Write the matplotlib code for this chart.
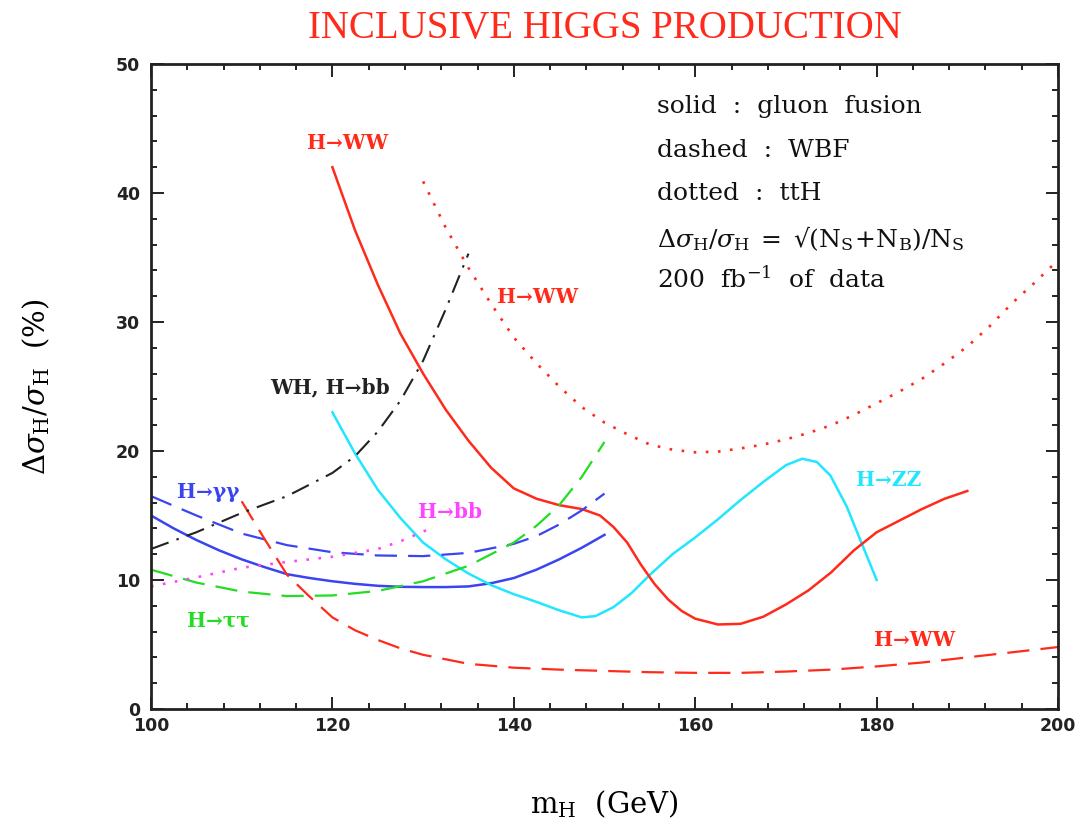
import matplotlib
matplotlib.use("Agg")
import matplotlib.pyplot as plt
from matplotlib.ticker import MultipleLocator

plt.rcParams['mathtext.fontset'] = 'dejavuserif'

# ---- gluon fusion (solid) ----
gg_aa_m = [100, 102.5, 105, 107.5, 110, 112.5, 115, 117.5, 120, 122.5, 125, 127.5,
           130, 132.5, 135, 137.5, 140, 142.5, 145, 147.5, 150]
gg_aa_v = [15.0, 14.0, 13.1, 12.3, 11.6, 11.0, 10.45, 10.15, 9.9, 9.7, 9.55, 9.47,
           9.45, 9.45, 9.5, 9.75, 10.15, 10.8, 11.6, 12.5, 13.5]

gg_zz_m = [120, 122.5, 125, 127.5, 130, 132.5, 135, 137.5, 140, 142.5, 145, 147.5,
           149, 151, 153, 155, 157.5, 160, 162.5, 165, 167.5, 170, 171.8, 173.4,
           174.9, 176.7, 178.2, 180]
gg_zz_v = [23.0, 19.8, 17.0, 14.8, 12.9, 11.6, 10.5, 9.6, 8.9, 8.3, 7.65, 7.1,
           7.2, 7.9, 9.0, 10.4, 12.0, 13.3, 14.7, 16.2, 17.6, 18.9, 19.4, 19.15,
           18.1, 15.7, 13.1, 10.0]

gg_ww_m = [120, 122.5, 125, 127.5, 130, 132.5, 135, 137.5, 140, 142.5, 145, 147.5,
           149.5, 151, 152.5, 154, 155.5, 157, 158.5, 160, 162.5, 165, 167.5, 170,
           172.5, 175, 177.5, 180, 182.5, 185, 187.5, 190]
gg_ww_v = [42.0, 37.1, 32.9, 29.1, 26.0, 23.2, 20.8, 18.7, 17.1, 16.3, 15.8, 15.5,
           15.0, 14.1, 12.9, 11.2, 9.7, 8.5, 7.6, 7.0, 6.55, 6.6, 7.15, 8.1,
           9.2, 10.6, 12.3, 13.7, 14.6, 15.5, 16.3, 16.9]

# ---- weak boson fusion (dashed) ----
wbf_aa_m = [100, 105, 110, 115, 120, 125, 130, 135, 140, 142.5, 145, 147.5, 150]
wbf_aa_v = [16.5, 15.0, 13.6, 12.7, 12.15, 11.9, 11.85, 12.1, 12.8, 13.4, 14.3, 15.4, 16.7]

wbf_tt_m = [100, 105, 110, 115, 120, 125, 130, 135, 140, 142.5, 145, 147.5, 150]
wbf_tt_v = [10.8, 9.8, 9.1, 8.75, 8.8, 9.15, 9.9, 11.1, 12.9, 14.2, 15.8, 18.0, 20.7]

wbf_ww_m = [110, 112.5, 115, 117.5, 120, 122.5, 125, 127.5, 130, 135, 140, 145, 150,
            155, 160, 165, 170, 175, 180, 185, 190, 195, 200]
wbf_ww_v = [16.1, 13.2, 10.4, 8.7, 7.1, 6.1, 5.35, 4.7, 4.2, 3.5, 3.2, 3.05, 2.95,
            2.85, 2.8, 2.8, 2.9, 3.05, 3.3, 3.6, 4.0, 4.4, 4.8]

# ---- ttH (dotted) ----
tth_bb_m = [100, 105, 110, 115, 120, 125, 127.5, 130.5]
tth_bb_v = [9.5, 10.2, 10.95, 11.4, 11.8, 12.4, 13.0, 13.9]

tth_ww_m = [130, 132.5, 135, 137.5, 140, 142.5, 145, 147.5, 150, 152.5, 155, 157.5,
            160, 162.5, 165, 167.5, 170, 172.5, 175, 177.5, 180, 182.5, 185, 187.5,
            190, 192.5, 195, 197.5, 200]
tth_ww_v = [40.9, 37.3, 34.2, 31.4, 28.8, 26.8, 25.0, 23.4, 22.2, 21.3, 20.5, 20.1,
            19.9, 19.95, 20.2, 20.5, 20.9, 21.4, 22.0, 22.8, 23.7, 24.6, 25.6, 26.8,
            28.1, 29.7, 31.5, 33.1, 34.8]

# ---- WH, H->bb (dash-dot) ----
wh_bb_m = [100, 105, 110, 115, 120, 122.5, 125, 127.5, 130, 132.5, 135]
wh_bb_v = [12.4, 13.7, 15.2, 16.5, 18.3, 19.6, 21.5, 23.9, 27.0, 31.0, 35.3]

RED = '#ff2a1a'
BLUE = '#3a44f0'
CYAN = '#22e6ff'
GREEN = '#22dd22'
MAGENTA = '#ff44ff'
BLACK = '#222222'

DASH = (0, (10, 5))
DOT = (0, (1.0, 3.6))
DASHDOT = (0, (9, 4, 1.2, 4))

fig = plt.figure(figsize=(10.77, 8.24), dpi=100)
ax = fig.add_axes([0.1402, 0.1396, 0.8422, 0.7827])

ax.plot(gg_aa_m, gg_aa_v, color=BLUE, lw=1.8)
ax.plot(gg_zz_m, gg_zz_v, color=CYAN, lw=1.8)
ax.plot(gg_ww_m, gg_ww_v, color=RED, lw=1.8)
ax.plot(wbf_aa_m, wbf_aa_v, color=BLUE, lw=1.6, linestyle=DASH)
ax.plot(wbf_tt_m, wbf_tt_v, color=GREEN, lw=1.6, linestyle=DASH)
ax.plot(wbf_ww_m, wbf_ww_v, color=RED, lw=1.6, linestyle=DASH)
ax.plot(tth_bb_m, tth_bb_v, color=MAGENTA, lw=1.9, linestyle=DOT)
ax.plot(tth_ww_m, tth_ww_v, color=RED, lw=1.9, linestyle=DOT)
ax.plot(wh_bb_m, wh_bb_v, color=BLACK, lw=1.5, linestyle=DASHDOT)

ax.set_xlim(100, 200)
ax.set_ylim(0, 50)
ax.xaxis.set_major_locator(MultipleLocator(20))
ax.xaxis.set_minor_locator(MultipleLocator(4))
ax.yaxis.set_major_locator(MultipleLocator(10))
ax.yaxis.set_minor_locator(MultipleLocator(2))
ax.tick_params(which='both', direction='in', top=True, right=True, width=1.4, color='#222222')
ax.tick_params(which='major', length=9)
ax.tick_params(which='minor', length=4.5)
ax.tick_params(axis='x', pad=6)
ax.tick_params(axis='y', pad=8)
for s in ax.spines.values():
    s.set_linewidth(2.0)
    s.set_color('#222222')
for lab in ax.get_xticklabels() + ax.get_yticklabels():
    lab.set_fontfamily('DejaVu Sans')
    lab.set_fontweight('bold')
    lab.set_fontsize(12.5)
    lab.set_color('#222222')

fig.text(0.562, 0.966, 'INCLUSIVE HIGGS PRODUCTION', color=RED, ha='center', va='center',
         family='Liberation Serif', fontsize=28)

ax.set_xlabel(r'$\mathrm{m_H}$  (GeV)', family='DejaVu Serif', fontsize=21, labelpad=38)
ax.set_ylabel(r'$\Delta\sigma_\mathrm{H}/\sigma_\mathrm{H}$  (%)', family='DejaVu Serif',
              fontsize=21, labelpad=46)

lbl = dict(family='DejaVu Serif', weight='bold', fontsize=14.5, ha='center', va='center')
ax.text(121.7, 43.9, 'H→WW', color=RED, **lbl)
ax.text(142.6, 31.9, 'H→WW', color=RED, **lbl)
ax.text(184.2, 5.35, 'H→WW', color=RED, **lbl)
ax.text(119.7, 24.9, 'WH, H→bb', color=BLACK, **lbl)
ax.text(106.3, 16.8, 'H→γγ', color=BLUE, **lbl)
ax.text(133.0, 15.3, 'H→bb', color=MAGENTA, **lbl)
ax.text(107.4, 6.9, 'H→ττ', color=GREEN, **lbl)
ax.text(181.3, 17.75, 'H→ZZ', color=CYAN, **lbl)

info = dict(family='DejaVu Serif', fontsize=18, ha='left', va='center', color='#111111')
ax.text(155.8, 46.7, 'solid  :  gluon  fusion', **info)
ax.text(155.8, 43.3, 'dashed  :  WBF', **info)
ax.text(155.8, 40.0, 'dotted  :  ttH', **info)
ax.text(155.8, 36.5, r'$\Delta\sigma_\mathrm{H}/\sigma_\mathrm{H}\;=\;$√$(\mathrm{N_S}\!+\!\mathrm{N_B})/\mathrm{N_S}$', **info)
ax.text(155.8, 33.3, r'200  fb$^{-1}$  of  data', **info)

fig.savefig('out.png', dpi=100)
